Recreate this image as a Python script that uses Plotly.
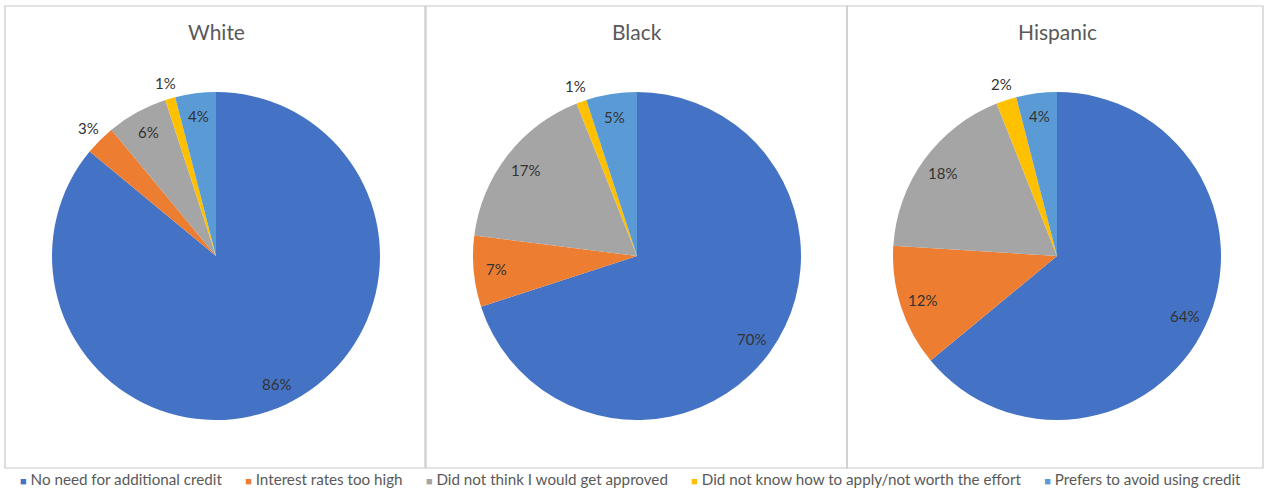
import math
import plotly.graph_objects as go

W, H = 1264, 488

categories = [
    "No need for additional credit",
    "Interest rates too high",
    "Did not think I would get approved",
    "Did not know how to apply/not worth the effort",
    "Prefers to avoid using credit",
]
groups = ["White", "Black", "Hispanic"]
white_vals = [86, 3, 6, 1, 4]
black_vals = [70, 7, 17, 1, 5]
hispanic_vals = [64, 12, 18, 2, 4]
colors = ["#4472C4", "#ED7D31", "#A5A5A5", "#FFC000", "#5B9BD5"]

series = [white_vals, black_vals, hispanic_vals]

# layout geometry (pixels)
centers_x = [216, 637, 1057]
center_y = 256
radius = 164
boxes = [(5, 425), (426, 847), (847, 1263)]
box_y = (6, 468)

FONT = "Lato"

fig = go.Figure()

annotations = []
shapes = []

for i, (name, vals) in enumerate(zip(groups, series)):
    cx = centers_x[i]
    dom_x = [(cx - radius) / W, (cx + radius) / W]
    dom_y = [1 - (center_y + radius) / H, 1 - (center_y - radius) / H]
    fig.add_trace(go.Pie(
        labels=categories,
        values=vals,
        marker=dict(colors=colors, line=dict(width=0)),
        sort=False,
        direction="clockwise",
        rotation=0,
        textinfo="none",
        hoverinfo="label+percent",
        domain=dict(x=dom_x, y=dom_y),
        showlegend=False,
    ))
    # data labels
    total = sum(vals)
    cum = 0
    for v in vals:
        mid = (cum + v / 2) / total
        cum += v
        ang = 2 * math.pi * mid
        d = 1.1 if v <= 3 else 0.86
        lx = cx + d * radius * math.sin(ang)
        ly = center_y - d * radius * math.cos(ang)
        annotations.append(dict(
            x=lx / W, y=1 - ly / H, xref="paper", yref="paper",
            text=f"{v}%", showarrow=False,
            font=dict(family=FONT, size=15, color="#333333"),
            xanchor="center", yanchor="middle",
        ))
    # title
    annotations.append(dict(
        x=cx / W, y=1 - 32 / H, xref="paper", yref="paper",
        text=name, showarrow=False,
        font=dict(family=FONT, size=21, color="#595959"),
        xanchor="center", yanchor="middle",
    ))
    # box
    bx0, bx1 = boxes[i]
    shapes.append(dict(
        type="rect", xref="paper", yref="paper",
        x0=bx0 / W, x1=bx1 / W, y0=1 - box_y[1] / H, y1=1 - box_y[0] / H,
        line=dict(color="#C8C8C8", width=1.2), fillcolor="rgba(0,0,0,0)",
    ))

# legend as one line of text
sep = "\u00a0" * 6
legend_parts = [
    f"<span style='color:{c};font-size:11px'>■</span>\u00a0{cat}"
    for cat, c in zip(categories, colors)
]
annotations.append(dict(
    x=630 / W, y=1 - 479 / H, xref="paper", yref="paper",
    text=sep.join(legend_parts), showarrow=False,
    font=dict(family=FONT, size=15.2, color="#595959"),
    xanchor="center", yanchor="middle",
))

fig.update_layout(
    width=W, height=H,
    margin=dict(l=0, r=0, t=0, b=0),
    paper_bgcolor="white",
    plot_bgcolor="white",
    annotations=annotations,
    shapes=shapes,
    showlegend=False,
)

fig.write_html("out.html")
